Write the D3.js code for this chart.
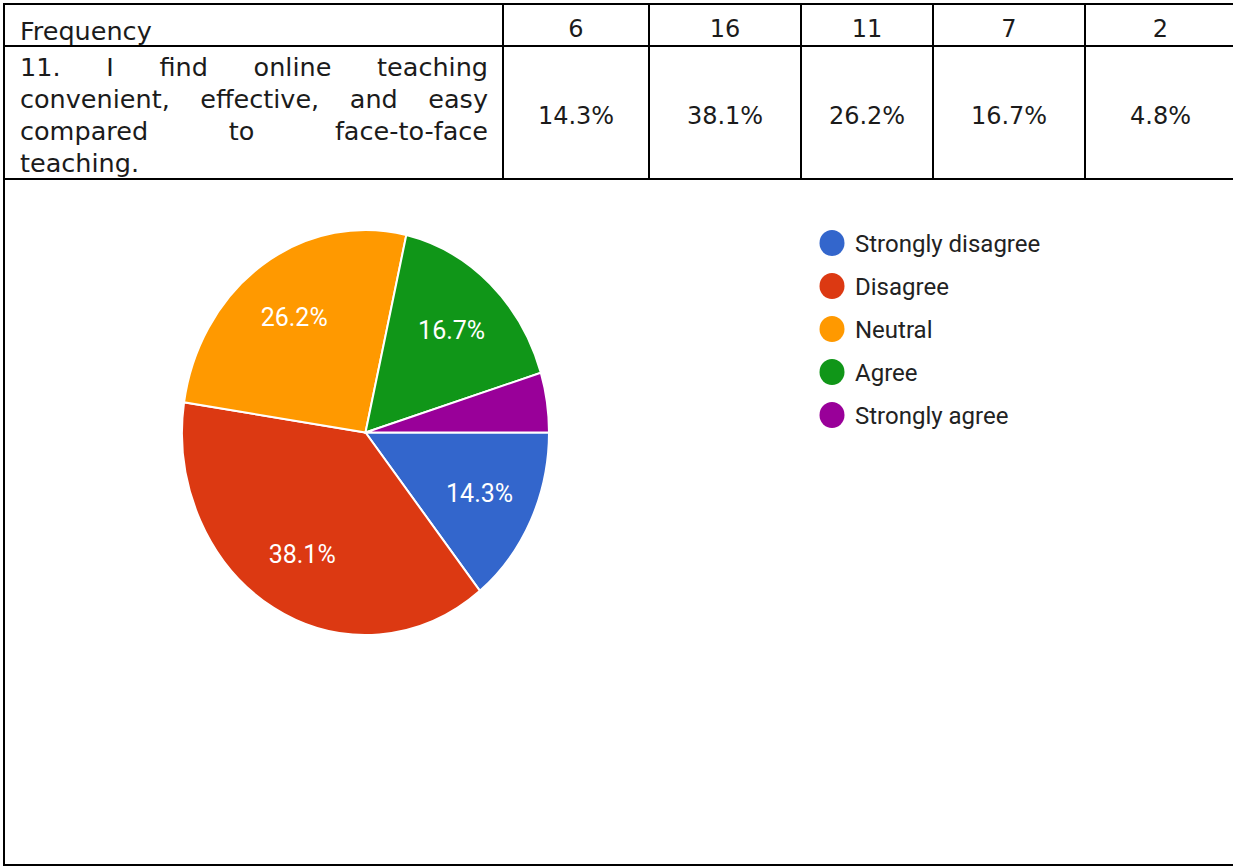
<!DOCTYPE html>
<html>
<head>
<meta charset="utf-8">
<script src="https://cdn.jsdelivr.net/npm/d3@7"></script>
<style>
  html, body { margin: 0; padding: 0; background: #ffffff; }
  svg { display: block; }
</style>
</head>
<body>
<svg id="chart" width="1233" height="867"></svg>
<script>
// Survey item 11: response distribution
const categories = ["Strongly disagree", "Disagree", "Neutral", "Agree", "Strongly agree"];
const frequencies = [6, 16, 11, 7, 2];
const percentLabels = ["14.3%", "38.1%", "26.2%", "16.7%", "4.8%"];
const colors = ["#3366cc", "#dc3912", "#ff9900", "#109618", "#990099"];
const rowHeader = "Frequency";
const statementLines = [
  "11. I find online teaching",
  "convenient, effective, and easy",
  "compared to face-to-face",
  "teaching."
];

const svg = d3.select("#chart");
svg.append("rect").attr("width", 1233).attr("height", 867).attr("fill", "#fff");

// ---------- table ----------
const tableFont = "'DejaVu Sans', sans-serif";
const colEdges = [4, 503, 649, 801, 933, 1085, 1236];
const rowEdges = [4, 46, 179, 865];
const colX = d3.scaleOrdinal().domain(categories).range(
  categories.map((c, i) => (colEdges[i + 1] + colEdges[i + 2]) / 2)
);

const grid = svg.append("g").attr("stroke", "#000").attr("stroke-width", 2).attr("fill", "none");
// outer frame
grid.append("rect")
  .attr("x", colEdges[0]).attr("y", rowEdges[0])
  .attr("width", colEdges[colEdges.length - 1] - colEdges[0])
  .attr("height", rowEdges[3] - rowEdges[0]);
// row dividers
grid.selectAll("line.h").data([rowEdges[1], rowEdges[2]]).join("line")
  .attr("class", "h")
  .attr("x1", colEdges[0]).attr("x2", colEdges[colEdges.length - 1])
  .attr("y1", d => d).attr("y2", d => d);
// column dividers
grid.selectAll("line.v").data(colEdges.slice(1, -1)).join("line")
  .attr("class", "v")
  .attr("x1", d => d).attr("x2", d => d)
  .attr("y1", rowEdges[0]).attr("y2", rowEdges[2]);

const tableText = svg.append("g")
  .attr("font-family", tableFont).attr("fill", "#1b1b1b");

tableText.append("text").attr("x", 20).attr("y", 40)
  .attr("font-size", 25.5).text(rowHeader);

tableText.selectAll("text.freq").data(frequencies).join("text")
  .attr("class", "freq")
  .attr("x", (d, i) => colX(categories[i]))
  .attr("y", 37)
  .attr("font-size", 24)
  .attr("text-anchor", "middle")
  .text(d => d);

tableText.selectAll("text.pct").data(percentLabels).join("text")
  .attr("class", "pct")
  .attr("x", (d, i) => colX(categories[i]))
  .attr("y", 124)
  .attr("font-size", 24)
  .attr("text-anchor", "middle")
  .text(d => d);

// justified statement text
const textLeft = 20, textRight = 488, firstBaseline = 76, lineStep = 32;
statementLines.forEach((line, li) => {
  const y = firstBaseline + li * lineStep;
  const words = line.split(" ");
  const nodes = words.map(w => tableText.append("text")
    .attr("y", y).attr("font-size", 25.5).text(w));
  const widths = nodes.map(n => n.node().getComputedTextLength());
  const isLast = li === statementLines.length - 1;
  const total = d3.sum(widths);
  const gap = (!isLast && words.length > 1)
    ? (textRight - textLeft - total) / (words.length - 1)
    : 8;
  let x = textLeft;
  nodes.forEach((n, i) => { n.attr("x", x); x += widths[i] + gap; });
});

// ---------- pie ----------
const cx = 365.5, cy = 432.5, rx = 183.5, ry = 202.5;
const pie = d3.pie().sort(null).value(d => d)
  .startAngle(Math.PI / 2).endAngle(Math.PI / 2 + 2 * Math.PI);
const arcs = pie(frequencies);
const arc = d3.arc().innerRadius(0).outerRadius(rx);
const labelArc = d3.arc().innerRadius(rx * 0.69).outerRadius(rx * 0.69);

const pieG = svg.append("g")
  .attr("transform", `translate(${cx},${cy}) scale(1,${ry / rx})`);
pieG.selectAll("path").data(arcs).join("path")
  .attr("d", arc)
  .attr("fill", (d, i) => colors[i])
  .attr("stroke", "#fff")
  .attr("stroke-width", 2)
  .attr("vector-effect", "non-scaling-stroke");

// percentage labels inside the larger slices
const labelG = svg.append("g").attr("font-family", "Roboto, Arial, sans-serif")
  .attr("font-size", 25).attr("fill", "#fff");
labelG.selectAll("text").data(arcs.filter(d => d.value / d3.sum(frequencies) > 0.1)).join("text")
  .attr("transform", d => {
    const [lx, ly] = labelArc.centroid(d);
    return `translate(${cx + lx},${cy + ly * ry / rx})`;
  })
  .attr("text-anchor", "middle")
  .attr("dy", "0.36em")
  .text(d => percentLabels[d.index]);

// ---------- legend ----------
const legendY = d3.scalePoint().domain(categories).range([243, 415]);
const legend = svg.append("g").attr("font-family", "Roboto, Arial, sans-serif")
  .attr("font-size", 24).attr("fill", "#222");
const items = legend.selectAll("g").data(categories).join("g")
  .attr("transform", d => `translate(832,${legendY(d)})`);
items.append("ellipse").attr("rx", 12.5).attr("ry", 13)
  .attr("fill", (d, i) => colors[i]);
items.append("text").attr("x", 23).attr("dy", "0.36em")
  .text(d => d);
</script>
</body>
</html>
